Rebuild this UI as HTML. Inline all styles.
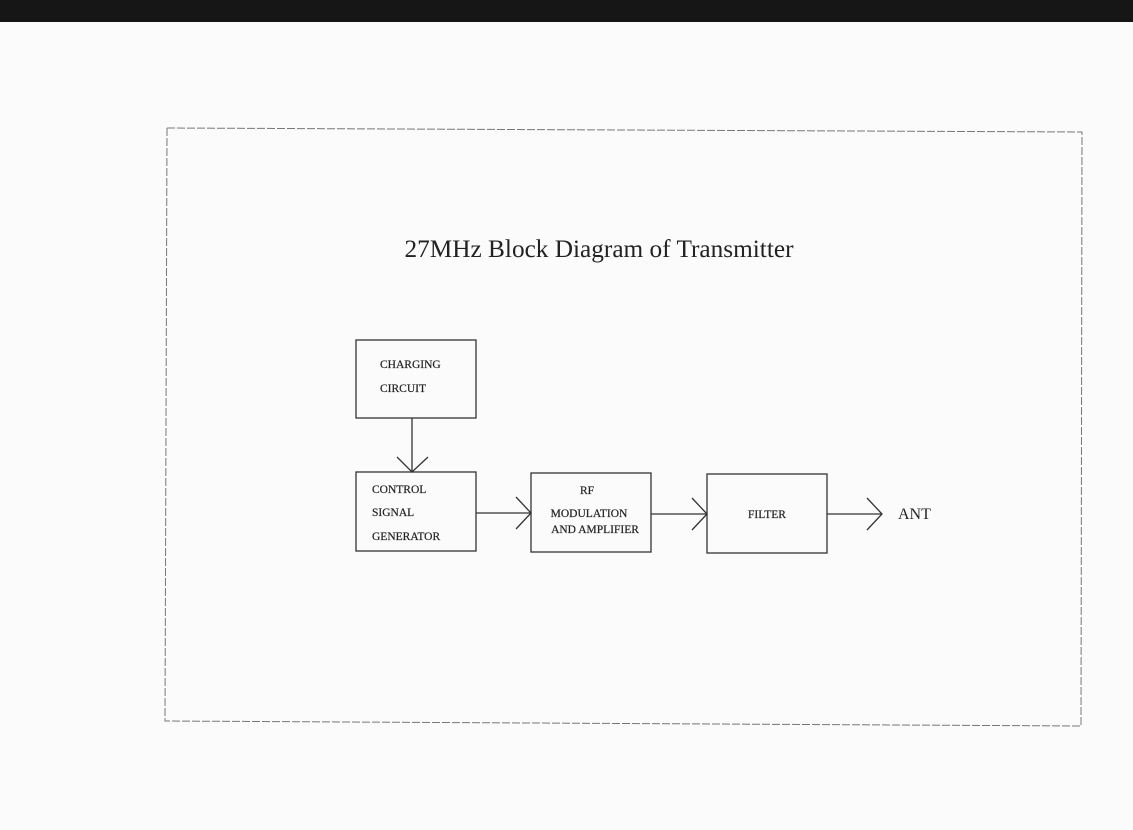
<!DOCTYPE html>
<html><head><style>
body{margin:0;width:1133px;height:830px;background:#fbfbfb;overflow:hidden}
svg{position:absolute;left:0;top:0}
text{font-family:"Liberation Serif",serif;fill:#222}
</style></head><body>
<svg width="1133" height="830" viewBox="0 0 1133 830">
<rect x="0" y="0" width="1133" height="22" fill="#161616"/>
<polygon points="167,128 1082,132 1081,726 165,721" fill="none" stroke="#777" stroke-width="1" stroke-dasharray="8,2"/>
<text x="599" y="257" font-size="25" text-anchor="middle" textLength="389" lengthAdjust="spacingAndGlyphs">27MHz Block Diagram of Transmitter</text>
<g fill="none" stroke="#333" stroke-width="1.3">
<rect x="356" y="340" width="120" height="78"/>
<rect x="356" y="472" width="120" height="79"/>
<rect x="531" y="473" width="120" height="79"/>
<rect x="707" y="474" width="120" height="79"/>
<line x1="412" y1="418" x2="412" y2="472"/>
<polyline points="397,457 412,472 428,457"/>
<line x1="476" y1="513" x2="531" y2="513"/>
<polyline points="516,497 531,513 516,529"/>
<line x1="651" y1="514" x2="707" y2="514"/>
<polyline points="692,498 707,514 692,530"/>
<line x1="827" y1="514" x2="882" y2="514"/>
<polyline points="867,498 882,514 867,530"/>
</g>
<g font-size="11.5" stroke="#222" stroke-width="0.2">
<text x="380" y="368">CHARGING</text>
<text x="380" y="392">CIRCUIT</text>
<text x="372" y="493">CONTROL</text>
<text x="372" y="516">SIGNAL</text>
<text x="372" y="540">GENERATOR</text>
<text x="587" y="494" text-anchor="middle">RF</text>
<text x="589" y="517" text-anchor="middle">MODULATION</text>
<text x="595" y="533" text-anchor="middle">AND AMPLIFIER</text>
<text x="767" y="518" text-anchor="middle">FILTER</text>
</g>
<text x="898" y="519" font-size="16">ANT</text>
</svg>
</body></html>
